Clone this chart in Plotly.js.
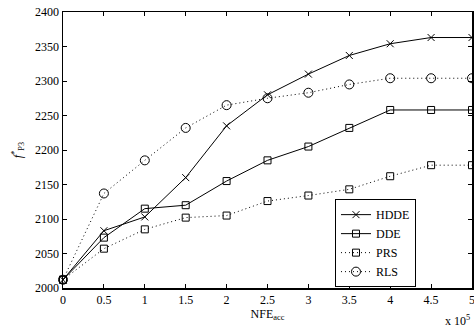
<!DOCTYPE html>
<html><head><meta charset="utf-8">
<script src="https://cdn.plot.ly/plotly-3.0.1.min.js"></script>
<style>html,body{margin:0;padding:0;background:#fff}#chart{width:474px;height:333px}</style>
</head><body><div id="chart"></div>
<script>
const nfe = [0, 0.5, 1, 1.5, 2, 2.5, 3, 3.5, 4, 4.5, 5];
const hdde = [2012, 2083, 2103, 2160, 2235, 2280, 2310, 2337, 2354, 2363, 2363];
const dde  = [2012, 2073, 2115, 2120, 2155, 2185, 2205, 2232, 2258, 2258, 2258];
const prs  = [2012, 2057, 2085, 2102, 2105, 2126, 2134, 2143, 2162, 2178, 2178];
const rls  = [2012, 2137, 2185, 2232, 2265, 2275, 2283, 2295, 2304, 2304, 2304];
const xTickVals = [0, 0.5, 1, 1.5, 2, 2.5, 3, 3.5, 4, 4.5, 5];
const xTickText = ['0', '0.5', '1', '1.5', '2', '2.5', '3', '3.5', '4', '4.5', '5'];
const yTickVals = [2000, 2050, 2100, 2150, 2200, 2250, 2300, 2350, 2400];

const font = {family: 'Liberation Serif, Times New Roman, serif', size: 12, color: '#000'};
function tr(name, y, symbol, dash, size) {
  return {x: nfe, y: y, name: name, type: 'scatter', mode: 'lines+markers', cliponaxis: false,
    line: {color: '#000', width: 1, dash: dash},
    marker: {symbol: symbol, size: size, color: '#000', line: {color: '#000', width: 1}}};
}
const data = [
  tr('HDDE', hdde, 'x-thin-open', 'solid', 7),
  tr('DDE', dde, 'square-open', 'solid', 7),
  tr('PRS', prs, 'square-open', '1px,3px', 7),
  tr('RLS', rls, 'circle-open', '1px,3px', 9)
];
const axisCommon = {showgrid: false, zeroline: false, showline: true, mirror: 'ticks',
  linecolor: '#000', linewidth: 1.5, ticks: 'inside', ticklen: 4, tickcolor: '#000', tickwidth: 1,
  tickfont: font, ticklabeloverflow: 'allow'};
const layout = {
  width: 474, height: 333,
  margin: {l: 63, r: 2, t: 12, b: 45},
  paper_bgcolor: '#fff', plot_bgcolor: '#fff',
  font: font,
  xaxis: Object.assign({}, axisCommon, {range: [0, 5], tickvals: xTickVals, ticktext: xTickText,
    title: {text: 'NFE<sub>acc</sub>', font: font, standoff: 2}}),
  yaxis: Object.assign({}, axisCommon, {range: [2000, 2400], tickvals: yTickVals,
    title: {text: '<i>f</i><sup>*</sup><sub>P3</sub>', font: font, standoff: 10}}),
  showlegend: true,
  legend: {x: 0.665, y: 0.322, xanchor: 'left', yanchor: 'top', bgcolor: '#fff',
    bordercolor: '#000', borderwidth: 1, font: font, tracegroupgap: 0, itemwidth: 30},
  annotations: [{xref: 'paper', yref: 'paper', x: 1.0, y: -0.085, xanchor: 'right', yanchor: 'top',
    text: 'x 10<sup>5</sup>', showarrow: false, font: font}]
};
Plotly.newPlot('chart', data, layout, {displayModeBar: false, staticPlot: true});
</script></body></html>
